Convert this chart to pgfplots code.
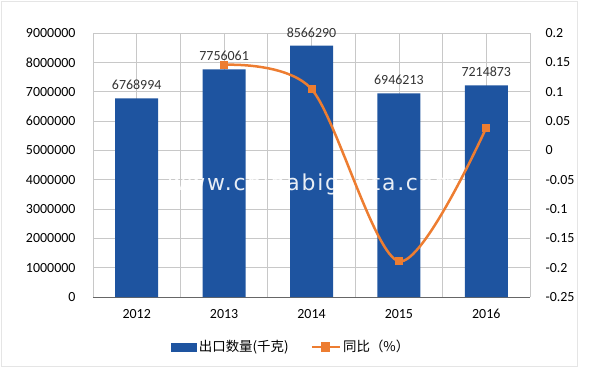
\documentclass[border=0pt]{standalone}
\usepackage{pgfplots}
\pgfplotsset{compat=1.18}
\usepackage{fontspec}
\setmainfont{Carlito}
\newfontfamily\cjk{Noto Sans CJK SC}
\newfontfamily\wm[LetterSpace=8]{DejaVu Sans}
\definecolor{barblue}{RGB}{30,84,160}
\definecolor{lineorange}{RGB}{237,125,49}
\definecolor{gridgray}{RGB}{200,200,200}
\begin{document}
\begin{tikzpicture}[x=1bp,y=1bp]
\path[draw=gray!20, line width=0.8bp] (1,3) rectangle (577,368);
\path (0,0) rectangle (600,369);
\begin{axis}[
  at={(93bp,72bp)}, anchor=south west,
  scale only axis, width=437bp, height=264bp,
  xmin=-0.5, xmax=4.5, ymin=0, ymax=9000000,
  scaled y ticks=false,
  xtick={0,1,2,3,4}, xticklabels={2012,2013,2014,2015,2016},
  minor xtick={-0.5,0.5,1.5,2.5,3.5,4.5},
  ytick={0,1000000,2000000,3000000,4000000,5000000,6000000,7000000,8000000,9000000},
  yticklabels={0,1000000,2000000,3000000,4000000,5000000,6000000,7000000,8000000,9000000},
  xmajorgrids, xminorgrids, ymajorgrids,
  grid style={draw=gridgray, line width=0.8bp},
  minor grid style={draw=gridgray, line width=0.8bp},
  major tick length=0pt, minor tick length=0pt,
  axis x line*=bottom, axis y line*=left,
  x axis line style={draw=gray!80!black, line width=1bp, -},
  y axis line style={draw=none},
  ticklabel style={font=\fontsize{14}{14}\selectfont},
  yticklabel style={xshift=-14bp},
  xticklabel style={yshift=-9bp},
  /pgf/number format/assume math mode=true,
  nodes near coords={\textnormal{\pgfplotspointmeta}},
  nodes near coords style={font=\rmfamily\fontsize{14}{14}\selectfont, color=black!80, yshift=5bp},
  point meta=explicit symbolic,
]
\addplot[ybar, bar width=43bp, fill=barblue, draw=none] coordinates {
  (0,6768994) [6768994]
  (1,7756061) [7756061]
  (2,8566290) [8566290]
  (3,6946213) [6946213]
  (4,7214873) [7214873]
};
\end{axis}
\node[text=white, font=\wm\fontsize{22}{22}\selectfont, opacity=0.9] at (312bp,185bp) {www.chinabigdata.com};
\begin{axis}[
  at={(93bp,72bp)}, anchor=south west,
  scale only axis, width=437bp, height=264bp,
  xmin=-0.5, xmax=4.5, ymin=-0.25, ymax=0.2,
  axis x line=none, axis y line*=right,
  y axis line style={draw=none},
  ytick={-0.25,-0.2,-0.15,-0.1,-0.05,0,0.05,0.1,0.15,0.2},
  yticklabels={-0.25,-0.2,-0.15,-0.1,-0.05,0,0.05,0.1,0.15,0.2},
  major tick length=0pt,
  ticklabel style={font=\fontsize{14}{14}\selectfont},
  yticklabel style={xshift=12bp},
  /pgf/number format/assume math mode=true,
  legend columns=2,
  legend style={at={(axis description cs:0.454,-0.189)}, anchor=center, draw=none, fill=none,
    font=\cjk\fontsize{13.5}{13.5}\selectfont,
    /tikz/every even column/.append style={column sep=20bp}},
]
\addlegendimage{legend image code/.code={\fill[barblue] (0bp,-4bp) rectangle (25bp,4bp);}}
\addlegendentry{出口数量(千克)}
\addplot[smooth, tension=0.5, color=lineorange, line width=2.5bp, mark=square*, mark size=3.5bp,
  mark options={fill=lineorange, draw=lineorange, line width=0bp},
  legend image code/.code={\draw[lineorange, line width=2.5bp] (0bp,0bp) -- (28bp,0bp); \fill[lineorange] (10bp,-3.5bp) rectangle (17bp,3.5bp);}]
  coordinates {(1,0.1458) (2,0.1045) (3,-0.1891) (4,0.0387)};
\addlegendentry{同比（\%）}
\end{axis}
\end{tikzpicture}
\end{document}
